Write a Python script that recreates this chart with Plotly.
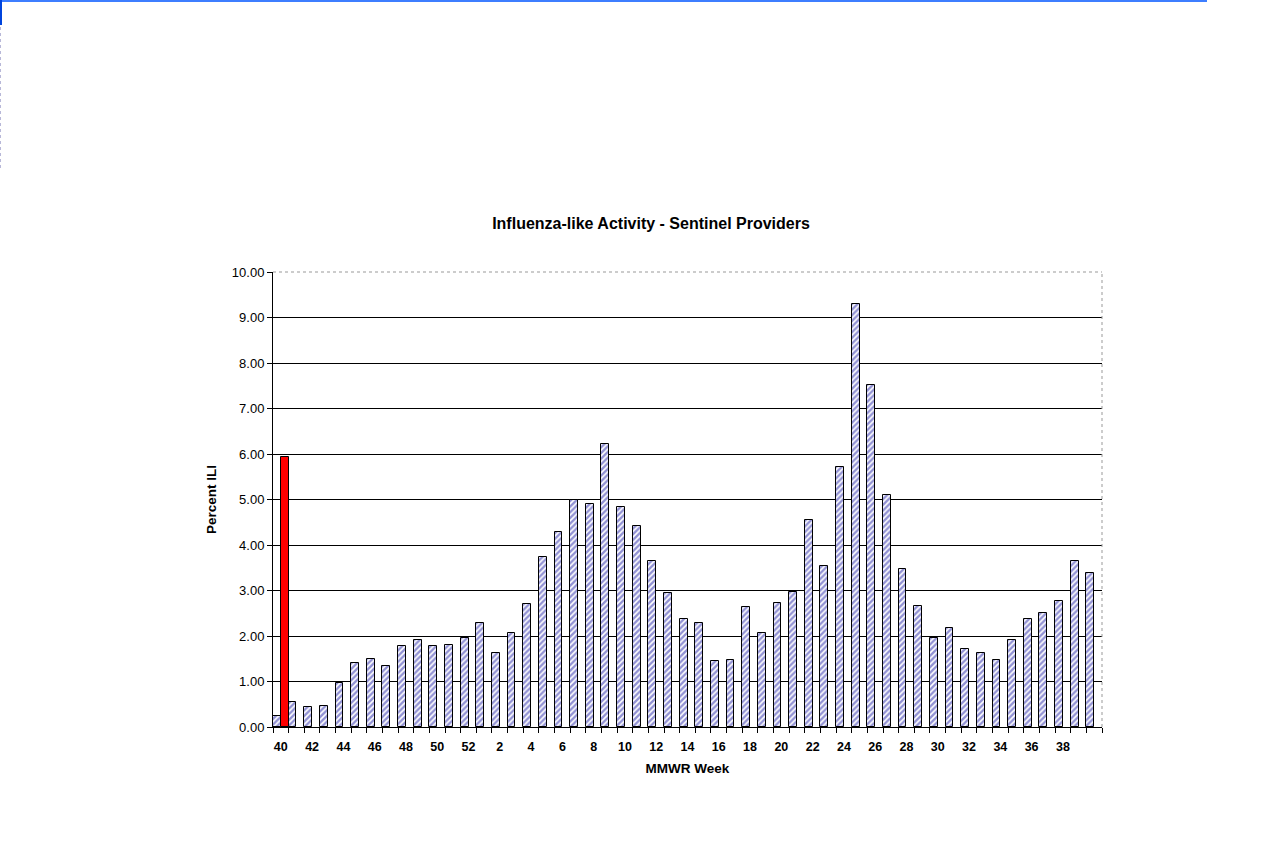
import plotly.graph_objects as go

# MMWR week categories (40..52, 1..39, 40)
weeks = [str(w) for w in list(range(40, 53)) + list(range(1, 40))] + ["40"]

# Previous season (hatched)
prev_season = [0.25, 0.54, 0.43, 0.46, 0.96, 1.41, 1.50, 1.35, 1.78, 1.91,
               1.78, 1.80, 1.95, 2.28, 1.63, 2.07, 2.70, 3.74, 4.28, 5.00,
               4.91, 6.22, 4.83, 4.41, 3.65, 2.94, 2.37, 2.28, 1.44, 1.48,
               2.63, 2.07, 2.72, 2.96, 4.56, 3.54, 5.72, 9.29, 7.52, 5.09,
               3.48, 2.65, 1.95, 2.17, 1.71, 1.62, 1.48, 1.91, 2.37, 2.50,
               2.76, 3.64, 3.38]

# Current season (red) - only week 40 reported
cur_season = [5.94] + [None] * (len(weeks) - 1)

y_ticks = [i for i in range(0, 11)]
y_tick_text = ["%.2f" % v for v in y_ticks]

x_idx = list(range(len(weeks)))
label_idx = list(range(0, 51, 2))
label_text = [weeks[i] for i in label_idx]

FONT = "Liberation Sans, Arial, sans-serif"

fig = go.Figure()
fig.add_trace(go.Bar(
    x=x_idx, y=prev_season, name="Previous season",
    marker=dict(color="white",
                line=dict(color="black", width=1),
                pattern=dict(shape="/", fgcolor="#2424a8", bgcolor="white",
                             size=4, solidity=0.6)),
))
fig.add_trace(go.Bar(
    x=x_idx, y=cur_season, name="Current season",
    marker=dict(color="#ff0000", line=dict(color="black", width=1)),
))

fig.update_layout(
    width=1280, height=864,
    margin=dict(l=273, r=178, t=272, b=137),
    paper_bgcolor="white", plot_bgcolor="white",
    barmode="group", bargap=0.0, bargroupgap=0.0,
    showlegend=False,
    font=dict(family=FONT, color="black", size=12),
    title=dict(text="<b>Influenza-like Activity - Sentinel Providers</b>",
               x=(651 / 1280), xanchor="center", y=1 - 223 / 864, yanchor="middle",
               font=dict(family=FONT, size=16, color="black")),
    xaxis=dict(
        range=[-0.5, len(weeks) - 0.5],
        tickmode="array", tickvals=label_idx, ticktext=label_text,
        ticks="", showgrid=False, zeroline=False,
        showline=True, linecolor="black", linewidth=1,
        ticklabelstandoff=8,
        tickfont=dict(family=FONT, size=12.5, color="black", weight="bold"),
        minor=dict(tick0=-0.5, dtick=1, ticks="outside", ticklen=5,
                   tickcolor="black", tickwidth=1, showgrid=False),
        title=dict(text="<b>MMWR Week</b>", font=dict(family=FONT, size=13.5),
                   standoff=10),
    ),
    yaxis=dict(
        range=[0, 10],
        tickmode="array", tickvals=y_ticks, ticktext=y_tick_text,
        ticks="outside", ticklen=5, tickcolor="black",
        showgrid=True, gridcolor="black", gridwidth=1,
        zeroline=False, showline=True, linecolor="black", linewidth=1,
        tickfont=dict(family=FONT, size=13, color="black"),
        title=dict(text="<b>Percent ILI</b>", font=dict(family=FONT, size=13.5),
                   standoff=12),
    ),
)

# dotted gray plot-area border (top and right)
fig.add_shape(type="line", xref="paper", yref="paper", x0=0, x1=1, y0=1, y1=1,
              line=dict(color="#999999", width=1, dash="dot"))
fig.add_shape(type="line", xref="paper", yref="paper", x0=1, x1=1, y0=0, y1=1,
              line=dict(color="#999999", width=1, dash="dot"))

# page frame artifacts (blue top line, left marker, dotted left edge)
pw, ph = 829.0, 455.0
def px(x): return (x - 273) / pw
def py(y): return (727 - y) / ph
fig.add_shape(type="rect", xref="paper", yref="paper",
              x0=px(0), x1=px(1207), y0=py(2), y1=py(0),
              line=dict(width=0), fillcolor="#3d7eff")
fig.add_shape(type="rect", xref="paper", yref="paper",
              x0=px(0), x1=px(2), y0=py(25), y1=py(0),
              line=dict(width=0), fillcolor="#0044dd")
fig.add_shape(type="line", xref="paper", yref="paper",
              x0=px(0.5), x1=px(0.5), y0=py(168), y1=py(25),
              line=dict(color="#b8b8d8", width=1, dash="dot"))

fig.write_html("out.html", config={"displayModeBar": False},
               post_script="document.body.style.margin='0';document.body.style.overflow='hidden';")
